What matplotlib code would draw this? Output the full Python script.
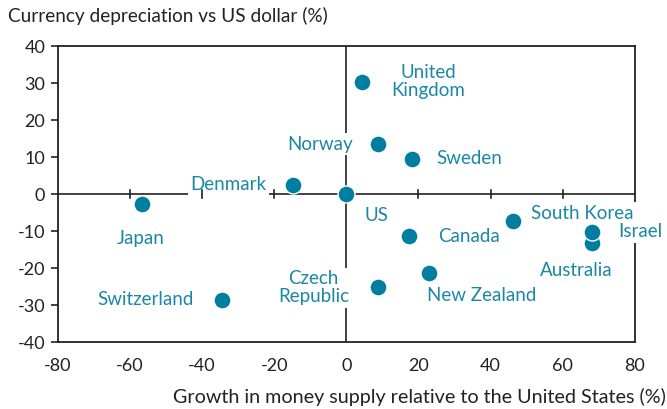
import matplotlib.pyplot as plt
import numpy as np

plt.rcParams['font.family'] = ['Lato', 'DejaVu Sans']
plt.rcParams['axes.unicode_minus'] = False

# 数据
countries = ['United\nKingdom', 'Norway', 'Sweden', 'Denmark', 'US', 'Japan',
             'Canada', 'South Korea', 'Australia', 'Israel', 'New Zealand',
             'Czech\nRepublic', 'Switzerland']
money_growth = [4.4, 8.9, 18.1, -14.7, 0.0, -56.6, 17.5, 46.1, 68.2, 68.2, 22.8, 8.9, -34.5]
depreciation = [30.4, 13.5, 9.5, 2.4, 0.0, -2.7, -11.3, -7.3, -13.3, -10.2, -21.4, -25.0, -28.6]

# 标签偏移 (像素)
offsets = {
    'United\nKingdom': (66, 0), 'Norway': (-58, 0), 'Sweden': (58, 0),
    'Denmark': (-65, 1), 'US': (30, -21), 'Japan': (-1, -34),
    'Canada': (60, 0), 'South Korea': (70, 8), 'Israel': (48, 0),
    'Australia': (-16, -27), 'New Zealand': (53, -22),
    'Czech\nRepublic': (-65, -1), 'Switzerland': (-76, 1),
}

dot_color = '#007e9f'
text_color = '#1a87a6'
ink = '#222222'

fig = plt.figure(figsize=(6.67, 4.09), dpi=100)
ax = fig.add_axes([0.0864, 0.163, 0.952 - 0.0864, 0.8875 - 0.163])

ax.set_xlim(-80, 80)
ax.set_ylim(-40, 40)

# 零线
ax.axhline(0, color=ink, lw=1.2, zorder=1)
ax.axvline(0, color=ink, lw=1.2, zorder=1)
# 零线上的刻度
for xt in np.arange(-60, 80, 20):
    if xt != 0:
        ax.plot([xt, xt], [-1.1, 1.1], color=ink, lw=1.2, zorder=3.5)

ax.scatter(money_growth, depreciation, s=150, color=dot_color,
           edgecolor='white', linewidth=1.0, zorder=4)

for name, x, y in zip(countries, money_growth, depreciation):
    dx, dy = offsets[name]
    ax.annotate(name, (x, y), xytext=(dx, dy), textcoords='offset pixels',
                ha='center', va='center', color=text_color, fontsize=13.5,
                linespacing=1.1, zorder=3,
                bbox=dict(boxstyle='square,pad=0.12', fc='white', ec='none'),
                annotation_clip=False)

for s in ax.spines.values():
    s.set_color(ink)
    s.set_linewidth(1.3)

ax.set_xticks(np.arange(-80, 81, 20))
ax.set_yticks(np.arange(-40, 41, 10))
ax.tick_params(axis='x', length=0, pad=11, labelsize=13, colors=ink)
ax.tick_params(axis='y', length=5, width=1.2, pad=4, labelsize=13, colors=ink)

fig.text(0.012, 0.962, 'Currency depreciation vs US dollar (%)', ha='left',
         va='center', fontsize=13.7, color=ink)
fig.text(0.998, 0.03, 'Growth in money supply relative to the United States (%)',
         ha='right', va='center', fontsize=14.2, color=ink)

fig.savefig('out.png', dpi=100)
